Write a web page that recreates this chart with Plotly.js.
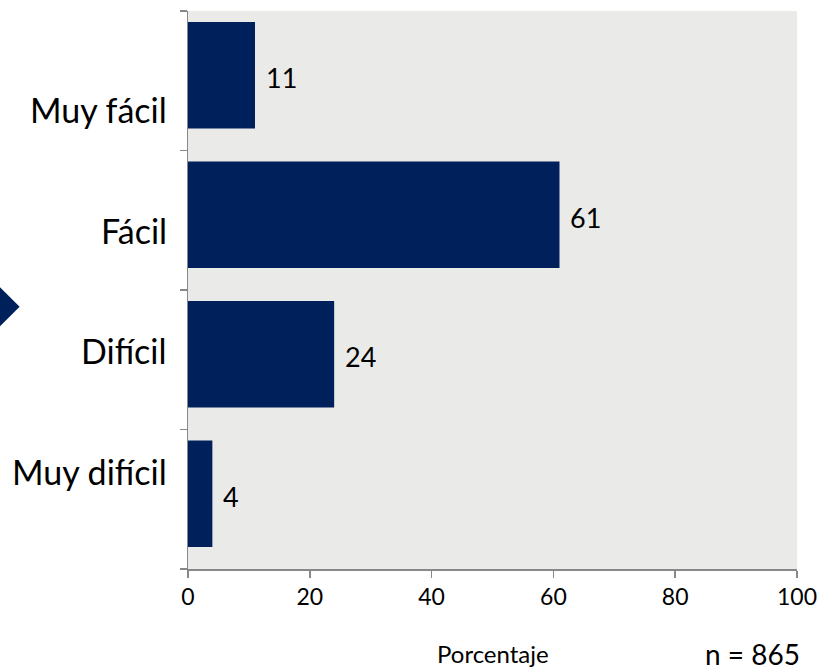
<!DOCTYPE html>
<html>
<head>
<meta charset="utf-8">
<script src="https://cdn.plot.ly/plotly-3.0.1.min.js"></script>
<style>html,body{margin:0;padding:0;background:#fff;}#chart{width:818px;height:671px;}</style>
</head>
<body>
<div id="chart"></div>
<script>
const categories = ["Muy difícil", "Difícil", "Fácil", "Muy fácil"];
const values = [4, 24, 61, 11];
const xTicks = [0, 20, 40, 60, 80, 100];
const xTitle = "Porcentaje";
const noteText = "n = 865";

const FONT = "Lato, 'Open Sans', sans-serif";

// Category label column (drawn as text beside the axis, as in the source image)
const LABEL_X = -0.032;      // paper x of right edge of labels
const LABEL_Y0 = 0.1747;     // paper y of lowest label
const LABEL_STEP = 0.216;    // paper spacing between labels

const trace = {
  type: "bar",
  orientation: "h",
  y: categories,
  x: values,
  marker: { color: "#00205b", line: { width: 0 } },
  hoverinfo: "none",
  width: 0.764,
  offset: -0.342
};

const valueAnnotations = categories.map((c, i) => ({
  x: values[i], y: c, xref: "x", yref: "y",
  text: String(values[i]), showarrow: false,
  xanchor: "left", yanchor: "middle", xshift: 9, yshift: 3,
  font: { family: FONT, size: 27, color: "#000" }
}));

const categoryAnnotations = categories.map((c, i) => ({
  xref: "paper", yref: "paper", x: LABEL_X, y: LABEL_Y0 + i * LABEL_STEP,
  text: c, showarrow: false, xanchor: "right", yanchor: "middle",
  font: { family: FONT, size: 34, color: "#000" }
}));

const layout = {
  width: 818, height: 671,
  margin: { l: 187.5, r: 21, t: 11, b: 102 },
  paper_bgcolor: "#ffffff",
  plot_bgcolor: "#eaeae9",
  showlegend: false,
  xaxis: {
    range: [0, 100],
    tickvals: xTicks,
    ticktext: xTicks.map(String),
    showgrid: false, zeroline: false,
    showline: true, linecolor: "#888888", linewidth: 1.5,
    ticks: "outside", ticklen: 7, tickcolor: "#888888", tickwidth: 1.5,
    tickfont: { family: FONT, size: 23, color: "#000" },
    fixedrange: true
  },
  yaxis: {
    type: "category",
    categoryorder: "array", categoryarray: categories,
    range: [-0.5, 3.5],
    showgrid: false, zeroline: false,
    showline: true, linecolor: "#888888", linewidth: 1.5,
    ticks: "outside", ticklen: 7, tickcolor: "#888888", tickwidth: 1.5,
    tickson: "boundaries",
    showticklabels: false,
    fixedrange: true
  },
  shapes: [{
    type: "path", xref: "paper", yref: "paper",
    path: "M -0.34,0.539 L -0.2765,0.470 L -0.34,0.401 Z",
    fillcolor: "#00205b", line: { width: 0 }
  }],
  annotations: valueAnnotations.concat(categoryAnnotations, [
    { xref: "paper", yref: "paper", x: 0.501, y: -0.152, xanchor: "center", yanchor: "middle",
      text: xTitle, showarrow: false, font: { family: FONT, size: 24, color: "#000" } },
    { xref: "paper", yref: "paper", x: 0.927, y: -0.152, xanchor: "center", yanchor: "middle",
      text: noteText, showarrow: false, font: { family: FONT, size: 28, color: "#000" } }
  ])
};

Plotly.newPlot("chart", [trace], layout, { displayModeBar: false, staticPlot: true });
</script>
</body>
</html>
